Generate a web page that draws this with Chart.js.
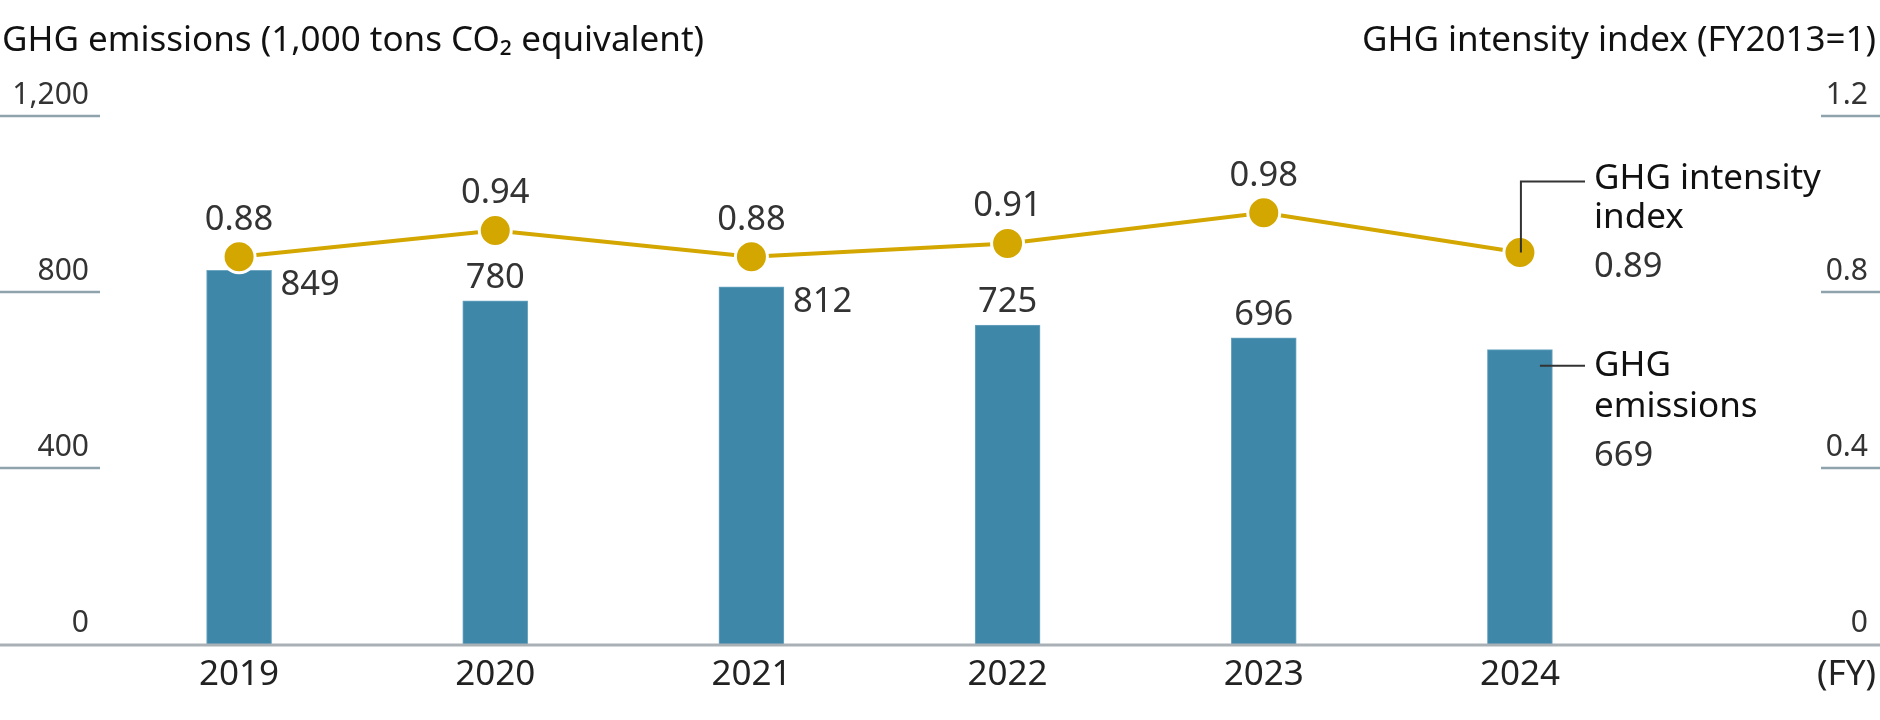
<!DOCTYPE html>
<html>
<head>
<meta charset="utf-8">
<script src="https://cdn.jsdelivr.net/npm/chart.js@4/dist/chart.umd.min.js"></script>
<style>
  html, body { margin: 0; padding: 0; background: #ffffff; }
  #wrap { width: 1880px; height: 720px; position: relative; }
</style>
</head>
<body>
<div id="wrap"><canvas id="c" width="1880" height="720"></canvas></div>
<script>
// ---- data ----
const years = ['2019', '2020', '2021', '2022', '2023', '2024'];
const emissions = [849, 780, 812, 725, 696, 669];
const intensity = [0.88, 0.94, 0.88, 0.91, 0.98, 0.89];
const leftTicks = [0, 400, 800, 1200];
const leftTickLabels = ['0', '400', '800', '1,200'];
const rightTicks = [0, 0.4, 0.8, 1.2];
const rightTickLabels = ['0', '0.4', '0.8', '1.2'];
const leftTitle = 'GHG emissions (1,000 tons CO\u2082 equivalent)';
const rightTitle = 'GHG intensity index (FY2013=1)';
const xUnit = '(FY)';
const emissionsName = ['GHG', 'emissions'];
const intensityName = ['GHG intensity', 'index'];
// label placement per bar (style, not data)
const barLabelPlacement = ['right', 'top', 'right', 'top', 'top', 'legend'];

const FONT = '"Noto Sans", "Open Sans", sans-serif';
const BAR_COLOR = '#3E87A9';
const LINE_COLOR = '#D4A600';

function font(sz) { return sz + 'px ' + FONT; }

const decorPlugin = {
  id: 'decor',
  afterDatasetsDraw(chart) {
    const ctx = chart.ctx;
    const yL = chart.scales.yL, yR = chart.scales.yR, x = chart.scales.x;
    const W = chart.width;
    ctx.save();

    // axis titles
    ctx.fillStyle = '#111111';
    ctx.font = font(35);
    ctx.textBaseline = 'middle';
    ctx.textAlign = 'left';
    ctx.fillText(leftTitle, 2, 41);
    ctx.textAlign = 'right';
    ctx.fillText(rightTitle, W - 4, 41);

    // left ticks: short stubs + labels above them
    ctx.strokeStyle = '#8FA3AF';
    ctx.lineWidth = 2.5;
    ctx.font = font(30);
    ctx.fillStyle = '#333333';
    ctx.textBaseline = 'alphabetic';
    leftTicks.forEach((v, i) => {
      const py = Math.round(yL.getPixelForValue(v));
      if (v !== 0) {
        ctx.beginPath(); ctx.moveTo(0, py); ctx.lineTo(100, py); ctx.stroke();
      }
      ctx.textAlign = 'right';
      ctx.fillText(leftTickLabels[i], 89, py - 12);
    });
    rightTicks.forEach((v, i) => {
      const py = Math.round(yR.getPixelForValue(v));
      if (v !== 0) {
        ctx.beginPath(); ctx.moveTo(W - 59, py); ctx.lineTo(W, py); ctx.stroke();
      }
      ctx.textAlign = 'right';
      ctx.fillText(rightTickLabels[i], W - 12, py - 12);
    });

    // baseline
    const by = yL.getPixelForValue(0);
    ctx.strokeStyle = '#A9B1B7';
    ctx.lineWidth = 3;
    ctx.beginPath(); ctx.moveTo(0, by + 1); ctx.lineTo(W, by + 1); ctx.stroke();

    // x labels
    ctx.fillStyle = '#222222';
    ctx.font = font(35);
    ctx.textAlign = 'center';
    ctx.textBaseline = 'middle';
    years.forEach((yr, i) => {
      ctx.fillText(yr, x.getPixelForValue(i), 675);
    });
    ctx.textAlign = 'right';
    ctx.fillText(xUnit, W - 4, 675);

    // data labels
    const barMeta = chart.getDatasetMeta(0);
    const lineMeta = chart.getDatasetMeta(1);
    ctx.fillStyle = '#333333';
    ctx.font = font(34.5);
    ctx.textBaseline = 'middle';
    barMeta.data.forEach((bar, i) => {
      const p = bar.getProps(['x', 'y', 'width'], true);
      const txt = String(emissions[i]);
      if (barLabelPlacement[i] === 'top') {
        ctx.textAlign = 'center';
        ctx.fillText(txt, p.x, p.y - 23);
      } else if (barLabelPlacement[i] === 'right') {
        ctx.textAlign = 'left';
        ctx.fillText(txt, p.x + p.width / 2 + 9, p.y + 15);
      }
    });
    lineMeta.data.forEach((pt, i) => {
      if (i === lineMeta.data.length - 1) return;
      const p = pt.getProps(['x', 'y'], true);
      ctx.textAlign = 'center';
      ctx.fillText(intensity[i].toFixed(2), p.x, p.y - 37);
    });

    // series annotations (legend at last category)
    const lastBar = barMeta.data[barMeta.data.length - 1].getProps(['x', 'y', 'width'], true);
    const lastPt = lineMeta.data[lineMeta.data.length - 1].getProps(['x', 'y'], true);
    const tx = 1594;
    ctx.strokeStyle = '#333333';
    ctx.lineWidth = 2;
    // intensity leader
    ctx.beginPath();
    ctx.moveTo(lastPt.x + 1, lastPt.y);
    ctx.lineTo(lastPt.x + 1, lastPt.y - 71);
    ctx.lineTo(tx - 9, lastPt.y - 71);
    ctx.stroke();
    // emissions leader
    ctx.beginPath();
    ctx.moveTo(lastBar.x + 20, lastBar.y + 16);
    ctx.lineTo(tx - 9, lastBar.y + 16);
    ctx.stroke();

    ctx.textAlign = 'left';
    ctx.textBaseline = 'middle';
    ctx.fillStyle = '#111111';
    ctx.font = font(35);
    ctx.fillText(intensityName[0], tx, lastPt.y - 73);
    ctx.fillText(intensityName[1], tx, lastPt.y - 34);
    ctx.fillText(emissionsName[0], tx, lastBar.y + 16);
    ctx.fillText(emissionsName[1], tx, lastBar.y + 57);
    ctx.fillStyle = '#333333';
    ctx.font = font(34.5);
    ctx.fillText(intensity[intensity.length - 1].toFixed(2), tx, lastPt.y + 15);
    ctx.fillText(String(emissions[emissions.length - 1]), tx, lastBar.y + 107);

    ctx.restore();
  }
};

new Chart(document.getElementById('c'), {
  data: {
    labels: years,
    datasets: [
      {
        type: 'bar',
        label: 'GHG emissions',
        data: emissions,
        yAxisID: 'yL',
        backgroundColor: BAR_COLOR,
        borderColor: '#6FA6C1',
        borderWidth: 1,
        barThickness: 65,
        order: 2
      },
      {
        type: 'line',
        label: 'GHG intensity index',
        data: intensity,
        yAxisID: 'yR',
        borderColor: LINE_COLOR,
        borderWidth: 4,
        pointRadius: 16,
        pointBackgroundColor: LINE_COLOR,
        pointBorderColor: '#ffffff',
        pointBorderWidth: 3,
        tension: 0,
        order: 1
      }
    ]
  },
  options: {
    responsive: false,
    animation: false,
    devicePixelRatio: 1,
    layout: { padding: { left: 111, right: 232, top: 116, bottom: 76 } },
    plugins: { legend: { display: false }, tooltip: { enabled: false } },
    scales: {
      x: { type: 'category', offset: true, display: false },
      yL: { type: 'linear', position: 'left', min: 0, max: 1200, display: false },
      yR: { type: 'linear', position: 'right', min: 0, max: 1.2, display: false }
    }
  },
  plugins: [decorPlugin]
});
</script>
</body>
</html>
